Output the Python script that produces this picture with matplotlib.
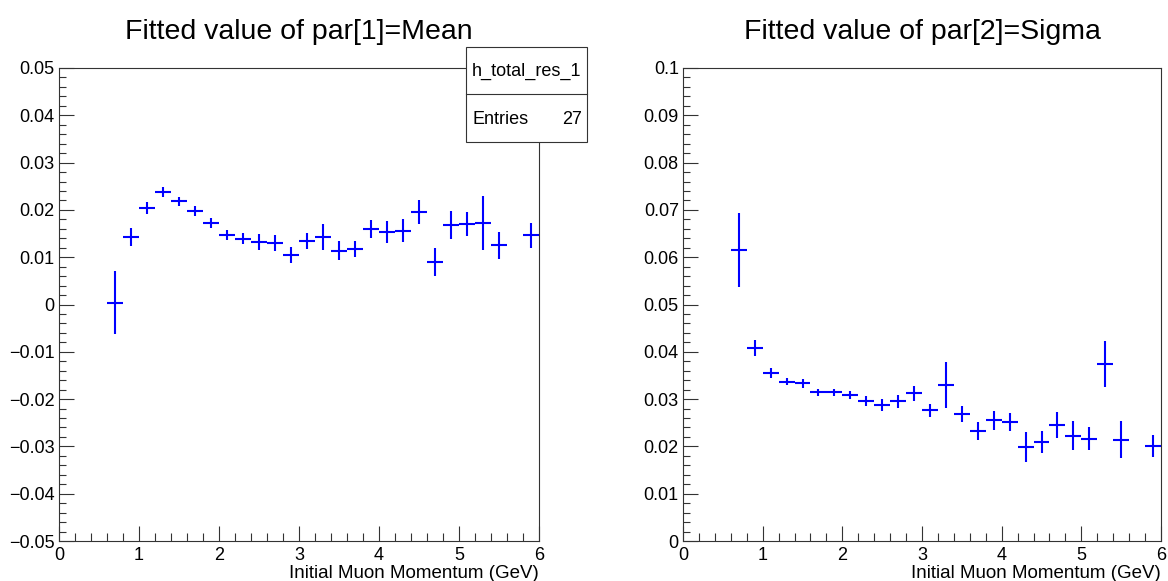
import matplotlib
matplotlib.use("Agg")
import matplotlib.pyplot as plt
from matplotlib.ticker import MultipleLocator, FuncFormatter
from matplotlib.patches import Rectangle
from matplotlib.lines import Line2D

plt.rcParams['font.family'] = ['Liberation Sans', 'DejaVu Sans']

# bin centres (GeV)
p = [0.7, 0.9, 1.1, 1.3, 1.5, 1.7, 1.9, 2.1, 2.3, 2.5, 2.7, 2.9, 3.1,
     3.3, 3.5, 3.7, 3.9, 4.1, 4.3, 4.5, 4.7, 4.9, 5.1, 5.3, 5.5, 5.9]
half_bin = 0.1

# fitted mean and its error
mean = [0.0004, 0.0143, 0.0204, 0.0238, 0.0218, 0.0198, 0.0172, 0.0147, 0.0139,
        0.0133, 0.0130, 0.0104, 0.0135, 0.0143, 0.0114, 0.0118, 0.0159, 0.0154,
        0.0156, 0.0196, 0.0090, 0.0168, 0.0170, 0.0173, 0.0125, 0.0146]
mean_err = [0.0067, 0.0019, 0.0012, 0.0010, 0.0010, 0.0010, 0.0010, 0.0010, 0.0012,
            0.0017, 0.0017, 0.0017, 0.0017, 0.0027, 0.0020, 0.0017, 0.0019, 0.0023,
            0.0024, 0.0025, 0.0030, 0.0030, 0.0025, 0.0057, 0.0028, 0.0026]

# fitted sigma and its error
sigma = [0.0616, 0.0408, 0.0355, 0.0337, 0.0333, 0.0314, 0.0314, 0.0309, 0.0296,
         0.0287, 0.0295, 0.0312, 0.0276, 0.0330, 0.0268, 0.0233, 0.0255, 0.0252,
         0.0199, 0.0209, 0.0245, 0.0223, 0.0216, 0.0374, 0.0214, 0.0201]
sigma_err = [0.0078, 0.0016, 0.0011, 0.0008, 0.0009, 0.0008, 0.0008, 0.0009, 0.0010,
             0.0013, 0.0014, 0.0016, 0.0013, 0.0049, 0.0017, 0.0019, 0.0020, 0.0019,
             0.0032, 0.0024, 0.0028, 0.0030, 0.0024, 0.0049, 0.0039, 0.0023]

W, H = 1168, 581
fig = plt.figure(figsize=(W / 100, H / 100), dpi=100)


def fmt(v, pos):
    if abs(v) < 1e-9:
        return '0'
    s = '%g' % round(v, 6)
    return s.replace('-', '\u2212')


def make_axes(rect, ylim, ymajor, title):
    ax = fig.add_axes(rect)
    ax.set_xlim(0, 6)
    ax.set_ylim(*ylim)
    ax.xaxis.set_major_locator(MultipleLocator(1))
    ax.xaxis.set_minor_locator(MultipleLocator(0.2))
    ax.yaxis.set_major_locator(MultipleLocator(ymajor))
    ax.yaxis.set_minor_locator(MultipleLocator(ymajor / 5))
    ax.xaxis.set_major_formatter(FuncFormatter(fmt))
    ax.yaxis.set_major_formatter(FuncFormatter(fmt))
    ax.tick_params(which='both', direction='in', top=False, right=False,
                   labelsize=13, width=0.8, color='#333333')
    ax.tick_params(axis='y', which='major', length=11, pad=3)
    ax.tick_params(axis='y', which='minor', length=5)
    ax.tick_params(axis='x', which='major', length=11, pad=4)
    ax.tick_params(axis='x', which='minor', length=5.5)
    for s in ax.spines.values():
        s.set_linewidth(0.8)
        s.set_color('#333333')
    ax.set_title(title, fontsize=20.5, pad=21)
    ax.set_xlabel('Initial Muon Momentum (GeV)', fontsize=13.5, loc='right', labelpad=1)
    return ax


ax1 = make_axes([59 / W, 40 / H, 480 / W, 473 / H], (-0.05, 0.05), 0.01,
                'Fitted value of par[1]=Mean')
ax1.errorbar(p, mean, xerr=half_bin, yerr=mean_err, fmt='none',
             ecolor='#0000ff', elinewidth=1.5, capsize=0)

ax2 = make_axes([683 / W, 40 / H, 478 / W, 473 / H], (0, 0.1), 0.01,
                'Fitted value of par[2]=Sigma')
ax2.errorbar(p, sigma, xerr=half_bin, yerr=sigma_err, fmt='none',
             ecolor='#0000ff', elinewidth=1.5, capsize=0)

# stats box (figure pixel coords)
bx0, bx1, by0, by1, bymid = 466, 587, 47, 142, 94
fig.patches.append(Rectangle((bx0 / W, 1 - by1 / H), (bx1 - bx0) / W, (by1 - by0) / H,
                             transform=fig.transFigure, facecolor='white',
                             edgecolor='#333333', linewidth=0.8, zorder=10))
fig.lines.append(Line2D([bx0 / W, bx1 / W], [1 - bymid / H, 1 - bymid / H],
                        transform=fig.transFigure, color='#333333', linewidth=0.8, zorder=11))
fig.text((bx0 + bx1) / 2 / W, 1 - 71 / H, 'h_total_res_1', ha='center', va='center',
         fontsize=13, zorder=12)
fig.text((bx0 + 6) / W, 1 - 119 / H, 'Entries', ha='left', va='center', fontsize=13, zorder=12)
fig.text((bx1 - 5) / W, 1 - 119 / H, '27', ha='right', va='center', fontsize=13, zorder=12)

fig.savefig('out.png', dpi=100)
